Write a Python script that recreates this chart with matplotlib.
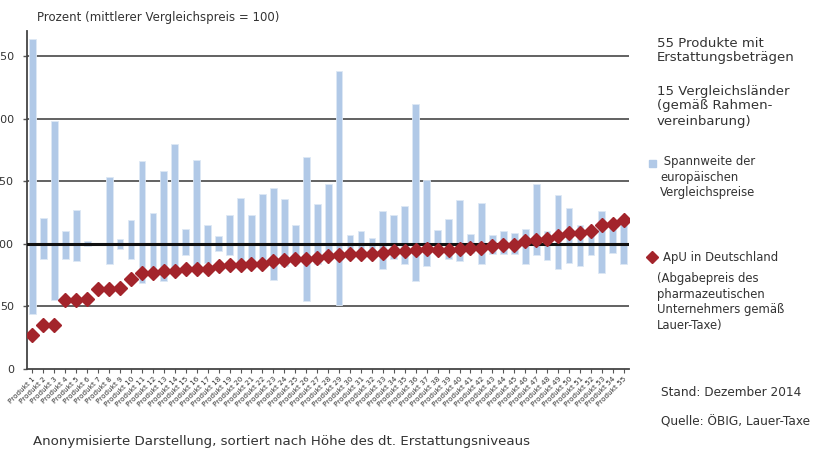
import numpy as np
import matplotlib
matplotlib.use("Agg")
import matplotlib.pyplot as plt
from matplotlib.lines import Line2D
from matplotlib.patches import Rectangle

# Spannweite der europäischen Vergleichspreise (min / max) und ApU in Deutschland
produkte = ["Produkt %d" % i for i in range(1, 56)]
spanne_max = [264, 121, 198, 110, 127, 102, np.nan, 153, 104, 119,
              166, 125, 158, 180, 112, 167, 115, 106, 123, 137,
              123, 140, 145, 136, 115, 169, 132, 148, 238, 107,
              110, 105, 126, 123, 130, 212, 151, 111, 120, 135,
              108, 133, 107, 110, 109, 112, 148, 110, 139, 129,
              115, 108, 126, 114, 117]
spanne_min = [44, 88, 55, 88, 86, 98, np.nan, 84, 96, 88,
              69, 77, 70, 79, 91, 83, 85, 94, 91, 84,
              83, 84, 71, 82, 88, 54, 84, 90, 51, 94,
              93, 93, 80, 88, 84, 70, 82, 94, 88, 86,
              93, 84, 92, 92, 92, 84, 91, 87, 80, 85,
              82, 91, 77, 93, 84]
apu = [27, 35, 35, 55, 55, 56, 64, 64, 65, 72,
       77, 77, 78, 78, 80, 80, 80, 82, 83, 83,
       84, 84, 86, 87, 88, 88, 89, 90, 91, 92,
       92, 92, 93, 94, 94, 95, 96, 95, 95, 96,
       97, 97, 98, 99, 99, 102, 103, 104, 106, 109,
       109, 110, 115, 116, 119]

bar_color = "#b1c9e7"
marker_color = "#a3242b"
text_color = "#333333"

fig = plt.figure(figsize=(8.16, 4.5), dpi=100)
ax = fig.add_axes([0.0331, 0.18, 0.738, 0.751])

x = np.arange(len(produkte))
lo = np.array(spanne_min, dtype=float)
hi = np.array(spanne_max, dtype=float)
ax.bar(x, hi - lo, bottom=lo, width=0.62, color=bar_color, edgecolor="#dde8f5", linewidth=0.6, zorder=2)
ax.plot(x, apu, linestyle="none", marker="D", markersize=7, color=marker_color, zorder=4)

# gridlines behind the bars, the 100 line on top of them
for y in [50, 150, 200, 250]:
    ax.axhline(y, color="#555555", linewidth=1.3, zorder=1)
ax.axhline(100, color="#111111", linewidth=2.2, zorder=3)

ax.set_xlim(-0.5, len(produkte) - 0.5)
ax.set_ylim(0, 270)
ax.set_yticks([0, 50, 100, 150, 200, 250])
ax.set_yticklabels(["0", "50", "100", "150", "200", "250"])
ax.tick_params(axis="y", length=3, width=1, color="#555555", pad=6.5, labelsize=8, labelcolor=text_color)
ax.set_xticks(x)
ax.set_xticklabels(produkte, rotation=45, ha="right", rotation_mode="anchor")
ax.tick_params(axis="x", length=3, width=0.8, color="#555555", pad=2, labelsize=5.2, labelcolor=text_color)

for s in ["top", "right"]:
    ax.spines[s].set_visible(False)
ax.spines["left"].set_color("#444444")
ax.spines["left"].set_linewidth(1.3)
ax.spines["bottom"].set_color("#444444")
ax.spines["bottom"].set_linewidth(1.3)

fig.text(37 / 816, 1 - 17 / 450, "Prozent (mittlerer Vergleichspreis = 100)",
         fontsize=8.5, color=text_color, va="center")
fig.text(33 / 816, 1 - 441 / 450, "Anonymisierte Darstellung, sortiert nach Höhe des dt. Erstattungsniveaus",
         fontsize=9.6, color=text_color, va="center")

fig.text(657 / 816, 1 - 50.5 / 450, "55 Produkte mit\nErstattungsbeträgen",
         fontsize=9.5, color=text_color, va="center", linespacing=1.1)
fig.text(657 / 816, 1 - 106 / 450, "15 Vergleichsländer\n(gemäß Rahmen-\nvereinbarung)",
         fontsize=9.5, color=text_color, va="center", linespacing=1.2)

fig.patches.append(Rectangle((649 / 816, 1 - 167 / 450), 7 / 816, 7 / 450,
                             transform=fig.transFigure, color=bar_color, figure=fig))
fig.text(660 / 816, 1 - 177 / 450, " Spannweite der\neuropäischen\nVergleichspreise",
         fontsize=8.4, color=text_color, va="center", linespacing=1.25)

fig.lines.append(Line2D([652 / 816], [1 - 257 / 450], marker="D", markersize=6.5, color=marker_color,
                        transform=fig.transFigure, figure=fig))
fig.text(663 / 816, 1 - 257 / 450, "ApU in Deutschland",
         fontsize=8.4, color=text_color, va="center")
fig.text(657 / 816, 1 - 302 / 450, "(Abgabepreis des\npharmazeutischen\nUnternehmers gemäß\nLauer-Taxe)",
         fontsize=8.4, color=text_color, va="center", linespacing=1.25)

fig.text(661 / 816, 1 - 392 / 450, "Stand: Dezember 2014", fontsize=8.7, color=text_color, va="center")
fig.text(661 / 816, 1 - 422 / 450, "Quelle: ÖBIG, Lauer-Taxe", fontsize=8.7, color=text_color, va="center")

fig.savefig("out.png", dpi=100)
